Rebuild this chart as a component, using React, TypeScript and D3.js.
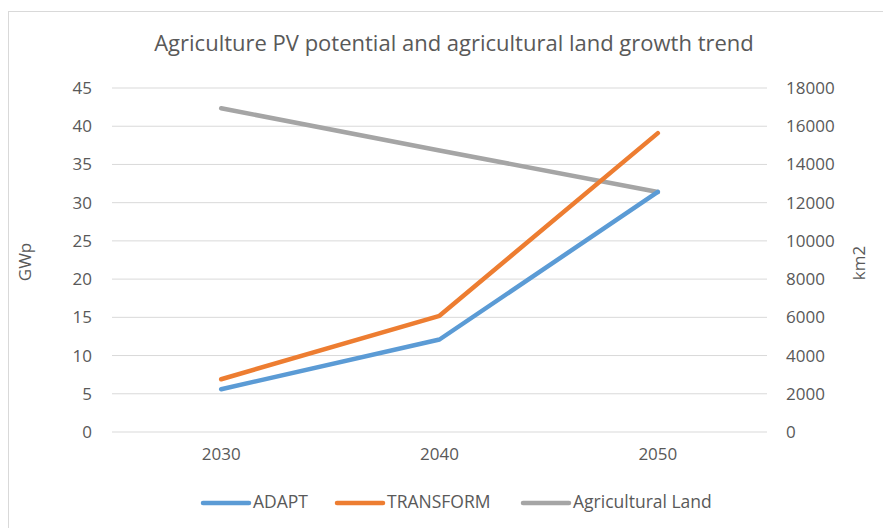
import React, { useRef, useEffect } from 'react';
import * as d3 from 'd3';

const years = ['2030', '2040', '2050'];
const adapt = [5.6, 12.1, 31.4];
const transform = [6.9, 15.2, 39.1];
const agriLand = [16940, 14730, 12560];
const leftTicks = [0, 5, 10, 15, 20, 25, 30, 35, 40, 45];
const rightTicks = [0, 2000, 4000, 6000, 8000, 10000, 12000, 14000, 16000, 18000];

const FONT = 'Open Sans, sans-serif';
const TEXT = '#595959';

function App() {
  const svgRef = useRef<SVGSVGElement>(null);

  useEffect(() => {
    const svg = d3.select(svgRef.current);
    svg.selectAll('*').remove();

    const left = 112, right = 767, top = 88, bottom = 432;

    const x = d3.scaleBand().domain(years).range([left, right]).padding(0);
    const y = d3.scaleLinear().domain([0, 45]).range([bottom, top]);
    const y2 = d3.scaleLinear().domain([0, 18000]).range([bottom, top]);
    const cx = (d: string) => (x(d) as number) + x.bandwidth() / 2;

    // chart frame
    svg.append('rect')
      .attr('x', 8.5).attr('y', 11.5)
      .attr('width', 900).attr('height', 600)
      .attr('fill', 'white')
      .attr('stroke', '#d9d9d9');

    svg.append('text')
      .attr('x', 454).attr('y', 45)
      .attr('text-anchor', 'middle').attr('dominant-baseline', 'middle')
      .attr('font-family', FONT).attr('font-size', 22)
      .attr('fill', TEXT)
      .text('Agriculture PV potential and agricultural land growth trend');

    // gridlines
    svg.append('g').selectAll('line')
      .data(leftTicks).enter().append('line')
      .attr('x1', left).attr('x2', right)
      .attr('y1', d => y(d)).attr('y2', d => y(d))
      .attr('stroke', '#d9d9d9').attr('stroke-width', 1);

    // left axis
    const gl = svg.append('g')
      .attr('transform', `translate(${left},0)`)
      .call(d3.axisLeft(y).tickValues(leftTicks).tickSize(0).tickPadding(20));
    gl.select('.domain').remove();
    gl.selectAll('text').attr('font-family', FONT).attr('font-size', 17).attr('fill', TEXT);

    // right axis
    const gr = svg.append('g')
      .attr('transform', `translate(${right},0)`)
      .call(d3.axisRight(y2).tickValues(rightTicks).tickSize(0).tickPadding(19).tickFormat(d3.format('d')));
    gr.select('.domain').remove();
    gr.selectAll('text').attr('font-family', FONT).attr('font-size', 17).attr('fill', TEXT);

    // bottom axis
    const gb = svg.append('g')
      .attr('transform', `translate(0,${bottom})`)
      .call(d3.axisBottom(x).tickSize(0).tickPadding(16));
    gb.select('.domain').remove();
    gb.selectAll('text').attr('font-family', FONT).attr('font-size', 17).attr('fill', TEXT);

    // axis titles
    svg.append('text')
      .attr('transform', 'translate(26,262) rotate(-90)')
      .attr('text-anchor', 'middle').attr('dominant-baseline', 'middle')
      .attr('font-family', FONT).attr('font-size', 17).attr('fill', TEXT)
      .text('GWp');
    svg.append('text')
      .attr('transform', 'translate(860,263) rotate(-90)')
      .attr('text-anchor', 'middle').attr('dominant-baseline', 'middle')
      .attr('font-family', FONT).attr('font-size', 17).attr('fill', TEXT)
      .text('km2');

    const series = [
      { name: 'ADAPT', values: adapt, scale: y, color: '#5b9bd5' },
      { name: 'TRANSFORM', values: transform, scale: y, color: '#ed7d31' },
      { name: 'Agricultural Land', values: agriLand, scale: y2, color: '#a5a5a5' },
    ];

    // draw gray first so colored lines sit on top like the reference
    [series[2], series[0], series[1]].forEach(s => {
      const line = d3.line<number>()
        .x((_, i) => cx(years[i]))
        .y(d => s.scale(d));
      svg.append('path')
        .datum(s.values)
        .attr('fill', 'none')
        .attr('stroke', s.color)
        .attr('stroke-width', 4.5)
        .attr('stroke-linecap', 'round')
        .attr('stroke-linejoin', 'round')
        .attr('d', line);
    });

    // legend
    const legendX = [203, 337, 523];
    const lg = svg.append('g');
    series.forEach((s, i) => {
      const g = lg.append('g').attr('transform', `translate(${legendX[i]},503)`);
      g.append('line')
        .attr('x1', 0).attr('x2', 46)
        .attr('stroke', s.color).attr('stroke-width', 4.5)
        .attr('stroke-linecap', 'round');
      g.append('text')
        .attr('x', 50).attr('y', 0)
        .attr('dominant-baseline', 'middle')
        .attr('font-family', FONT).attr('font-size', 17.5).attr('fill', TEXT)
        .text(s.name);
    });
  }, []);

  return (
    <svg ref={svgRef} width={883} height={528}
      style={{ position: 'absolute', left: 0, top: 0, background: 'white' }} />
  );
}

export default App;
